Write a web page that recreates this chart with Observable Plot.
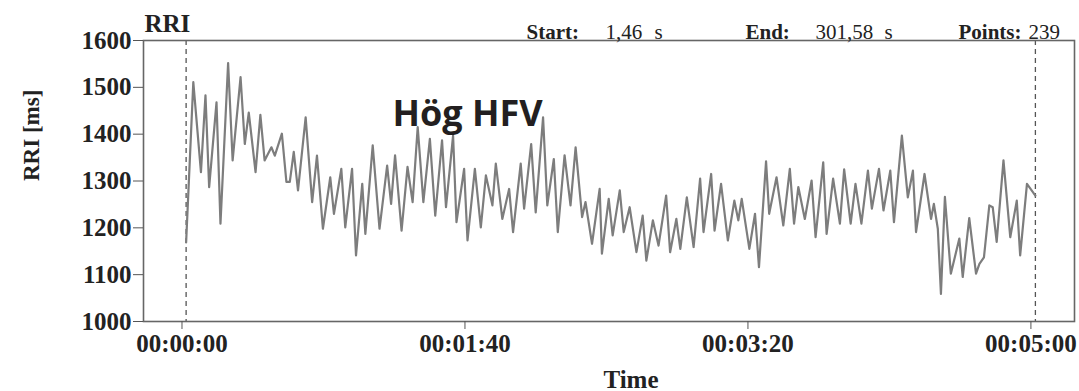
<!DOCTYPE html>
<html><head><meta charset="utf-8">
<script src="https://cdn.jsdelivr.net/npm/d3@7"></script>
<script src="https://cdn.jsdelivr.net/npm/@observablehq/plot@0.6"></script>
<style>html,body{margin:0;padding:0;background:#fff}</style>
</head><body><div id="chart"></div>
<script>
// RR-interval series (vertices), time in s, RRI in ms
const times = [1.46, 4.0, 6.7, 8.3, 9.6, 12.2, 13.6, 16.3, 17.9, 20.7, 22.2, 23.6, 26.0, 27.7, 29.2, 31.6, 32.8, 35.3, 36.9, 38.1,
  39.5, 41.0, 43.7, 46.0, 47.7, 49.8, 52.4, 53.7, 56.3, 57.7, 60.1, 61.5, 63.7, 64.8, 67.4, 69.8, 72.5, 73.9, 75.3, 77.6,
  79.7, 81.5, 83.3, 85.3, 87.6, 89.5, 91.9, 93.3, 95.8, 97.0, 99.7, 100.9, 103.5, 105.6, 107.4, 109.7, 110.9, 113.2, 115.6, 117.0,
  119.7, 120.9, 123.4, 125.0, 127.6, 129.1, 131.4, 132.8, 135.2, 137.3, 139.1, 141.4, 142.6, 144.9, 147.6, 148.4, 150.8, 152.2, 154.7, 156.1,
  158.2, 160.6, 162.8, 164.1, 166.4, 168.4, 171.1, 172.5, 174.7, 176.1, 178.4, 180.8, 183.1, 184.3, 187.0, 188.2, 190.5, 192.9, 195.2, 196.6,
  197.8, 200.5, 202.5, 203.9, 206.4, 207.5, 210.1, 212.5, 214.8, 216.3, 217.8, 220.1, 222.5, 223.9, 226.6, 227.8, 230.1, 232.5, 234.0, 236.3,
  238.0, 240.1, 242.4, 243.8, 246.3, 247.9, 250.3, 251.6, 254.4, 256.5, 258.3, 259.4, 262.4, 264.7, 265.7, 267.1, 268.2, 269.6, 271.7, 274.7,
  275.9, 278.2, 280.6, 281.8, 283.4, 285.3, 286.5, 287.9, 290.3, 292.7, 295.0, 296.2, 298.6, 301.58];
const rri = [1169, 1511, 1319, 1483, 1287, 1468, 1209, 1552, 1344, 1522, 1379, 1446, 1319, 1441, 1344, 1372, 1354, 1401, 1298, 1298,
  1362, 1280, 1436, 1255, 1354, 1198, 1308, 1230, 1326, 1201, 1326, 1141, 1294, 1187, 1376, 1198, 1333, 1251, 1355, 1194,
  1330, 1255, 1415, 1255, 1390, 1226, 1387, 1244, 1397, 1212, 1326, 1173, 1326, 1201, 1312, 1248, 1337, 1219, 1283, 1191,
  1337, 1241, 1379, 1233, 1436, 1248, 1347, 1191, 1355, 1248, 1372, 1223, 1255, 1166, 1283, 1145, 1262, 1184, 1280, 1191,
  1244, 1148, 1226, 1130, 1216, 1162, 1269, 1148, 1219, 1155, 1265, 1159, 1305, 1191, 1315, 1194, 1294, 1173, 1258, 1216,
  1262, 1155, 1230, 1116, 1342, 1230, 1308, 1205, 1326, 1209, 1287, 1219, 1301, 1180, 1340, 1187, 1305, 1209, 1325, 1209,
  1294, 1209, 1322, 1241, 1326, 1237, 1322, 1212, 1397, 1265, 1322, 1191, 1315, 1219, 1251, 1198, 1059, 1266, 1102, 1177,
  1095, 1221, 1102, 1123, 1137, 1248, 1244, 1170, 1344, 1180, 1258, 1141, 1294, 1269];

const startTime = 1.46;
const endTime = 301.58;
const pointCount = 239;
const xTicks = [0, 100, 200, 300];
const yTicks = [1000, 1100, 1200, 1300, 1400, 1500, 1600];
const seriesName = "RRI";
const yTitle = "RRI [ms]";
const xTitle = "Time";
const annotation = "Hög HFV";

const rows = times.map((t, i) => ({t, v: rri[i]}));
const pad = n => String(n).padStart(2, "0");
const fmtTime = s => `${pad(Math.floor(s / 3600))}:${pad(Math.floor((s % 3600) / 60))}:${pad(Math.round(s % 60))}`;
const fmtComma = n => n.toFixed(2).replace(".", ",");

const serif = "'Liberation Serif', 'Times New Roman', serif";
const ink = "#222";
const hdr = {frameAnchor: "top-left", textAnchor: "start", lineAnchor: "bottom", dy: -2, fontSize: 21, fill: ink};

const chart = Plot.plot({
  width: 1079,
  height: 391,
  marginLeft: 143,
  marginRight: 5,
  marginTop: 40,
  marginBottom: 70,
  style: {fontFamily: serif, fontSize: "25px", fontWeight: "bold", color: ink, background: "#fff"},
  x: {domain: [-13.6, 315.4]},
  y: {domain: [1000, 1600]},
  marks: [
    Plot.ruleX([startTime, endTime], {stroke: "#555", strokeDasharray: "5,4", strokeWidth: 1.3}),
    Plot.line(rows, {x: "t", y: "v", stroke: "#7d7d7d", strokeWidth: 2.2, strokeLinejoin: "round"}),
    Plot.frame({stroke: "#666", strokeWidth: 1.6}),
    Plot.axisY({ticks: yTicks, tickFormat: d => String(d), tickSize: 10, tickPadding: 2, label: null, stroke: "#555", fill: ink}),
    Plot.axisX({ticks: xTicks, tickFormat: fmtTime, tickSize: 8, tickPadding: 5, label: null, stroke: "#555", fill: ink}),
    Plot.text([seriesName], {frameAnchor: "top-left", textAnchor: "start", lineAnchor: "bottom", dx: 1, dy: -9, fontSize: 25, fill: ink}),
    Plot.text(["Start:"], {...hdr, dx: 383}),
    Plot.text([fmtComma(startTime)], {...hdr, dx: 462, fontWeight: "normal"}),
    Plot.text(["s"], {...hdr, dx: 511, fontWeight: "normal"}),
    Plot.text(["End:"], {...hdr, dx: 602}),
    Plot.text([fmtComma(endTime)], {...hdr, dx: 672, fontWeight: "normal"}),
    Plot.text(["s"], {...hdr, dx: 741, fontWeight: "normal"}),
    Plot.text(["Points:"], {...hdr, dx: 815}),
    Plot.text([String(pointCount)], {...hdr, dx: 885, fontWeight: "normal"}),
    Plot.text([yTitle], {frameAnchor: "left", rotate: -90, dx: -112, fontSize: 23, fill: ink}),
    Plot.text([xTitle], {frameAnchor: "bottom", dx: 22, dy: 58, lineAnchor: "middle", fontSize: 25, fill: ink}),
    Plot.text([annotation], {frameAnchor: "top-left", textAnchor: "start", lineAnchor: "bottom", dx: 249, dy: 85,
      fontFamily: "'Open Sans', 'Noto Sans', sans-serif", fontWeight: 700, fontSize: 36, fill: "#231f20"})
  ]
});
document.getElementById("chart").appendChild(chart);
</script>
</body></html>
